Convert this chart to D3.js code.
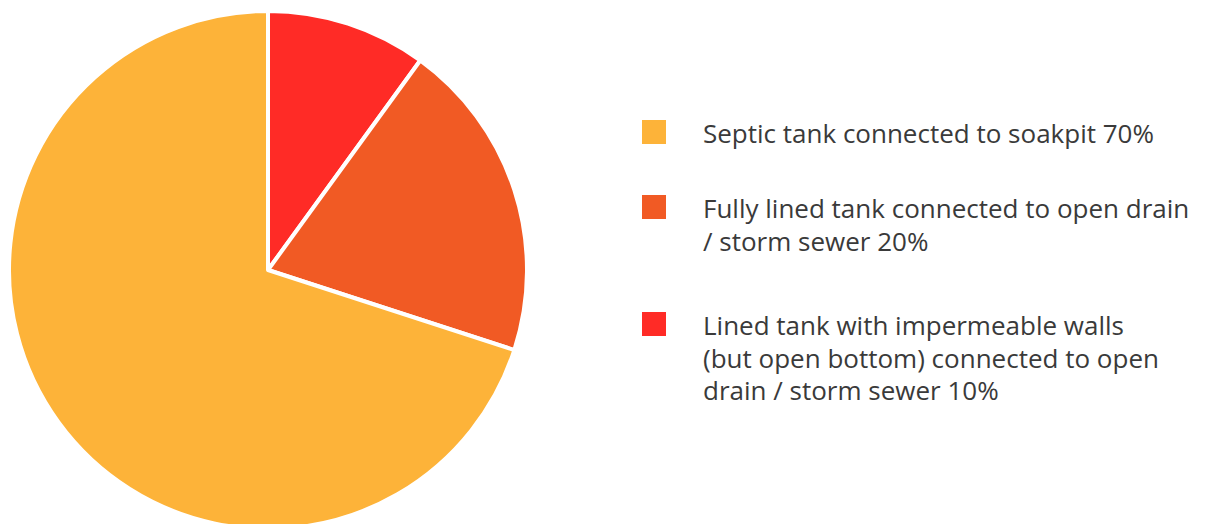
<!DOCTYPE html>
<html><head><meta charset="utf-8">
<script src="https://cdn.jsdelivr.net/npm/d3@7"></script>
<style>body{margin:0;background:#fff;}svg{display:block;}</style>
</head><body>
<svg id="c" width="1206" height="524"></svg>
<script>
const categories = ["Lined tank with impermeable walls (but open bottom) connected to open drain / storm sewer", "Fully lined tank connected to open drain / storm sewer", "Septic tank connected to soakpit"];
const values = [10, 20, 70];
const colors = ["#FF2B26", "#F15A24", "#FDB339"];
const legendOrder = [2, 1, 0];
const legendLines = [
  ["Septic tank connected to soakpit 70%"],
  ["Fully lined tank connected to open drain", "/ storm sewer 20%"],
  ["Lined tank with impermeable walls", "(but open bottom) connected to open", "drain / storm sewer 10%"]
];

const svg = d3.select("#c");
const cx = 268, cy = 270, r = 259;
const pie = d3.pie().sort(null).value(d => d)(values);
const arc = d3.arc().innerRadius(0).outerRadius(r);
svg.append("g").attr("transform", `translate(${cx},${cy})`)
  .selectAll("path").data(pie).join("path")
  .attr("d", arc)
  .attr("fill", (d, i) => colors[i])
  .attr("stroke", "#fff").attr("stroke-width", 4).attr("stroke-linejoin", "round");

const itemY = [143, 218, 335];
const lh = 32.5;
const lg = svg.append("g");
legendOrder.forEach((ci, k) => {
  const y = itemY[k];
  lg.append("rect").attr("x", 642).attr("y", y - 23).attr("width", 24).attr("height", 24).attr("fill", colors[ci]);
  const t = lg.append("text").attr("x", 703).attr("y", y)
    .attr("font-family", "Open Sans, sans-serif").attr("font-size", 26).attr("fill", "#3a3a3a");
  legendLines[k].forEach((ln, j) => {
    t.append("tspan").attr("x", 703).attr("y", y + j * lh).text(ln);
  });
});
</script>
</body></html>
